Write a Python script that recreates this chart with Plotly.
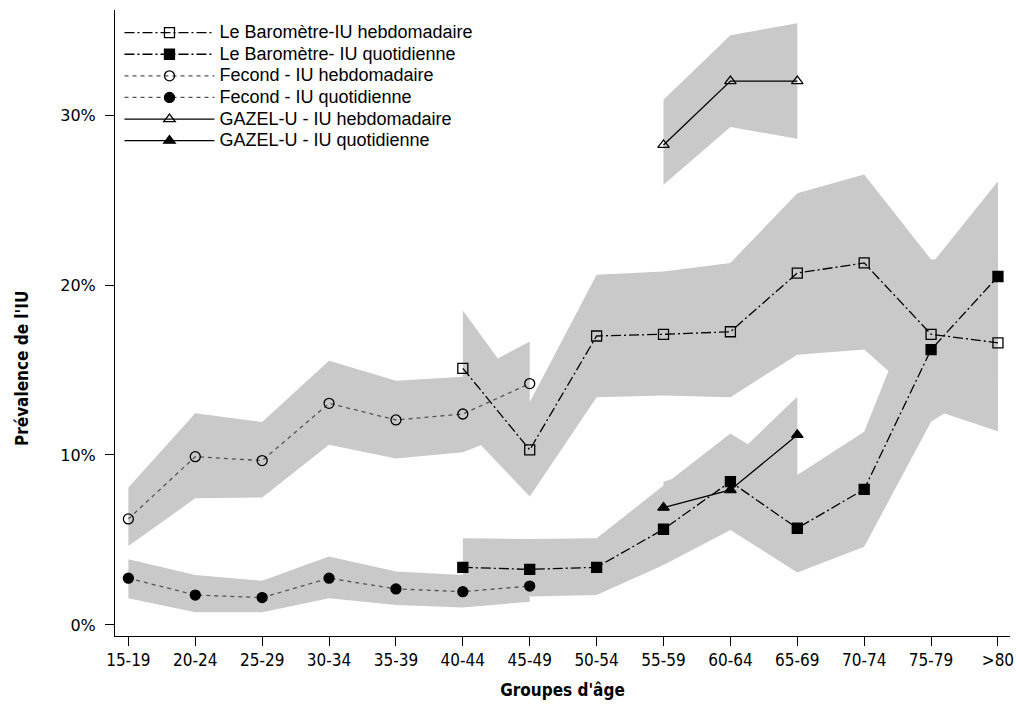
import plotly.graph_objects as go

# ---------------- data ----------------
age_groups = ["15-19", "20-24", "25-29", "30-34", "35-39", "40-44", "45-49",
              "50-54", "55-59", "60-64", "65-69", "70-74", "75-79", ">80"]

N = None
# Le Baromètre - IU hebdomadaire
baro_hebdo     = [N, N, N, N, N, 15.1, 10.3, 17.0, 17.1, 17.25, 20.7, 21.3, 17.1, 16.6]
baro_hebdo_lo  = [N, N, N, N, N, 11.7, 7.55, 13.4, 13.5, 13.4, 15.9, 16.2, 12.7, 11.4]
baro_hebdo_hi  = [N, N, N, N, N, 18.5, 13.1, 20.6, 20.8, 21.3, 25.4, 26.5, 21.5, 21.6]
# Le Baromètre - IU quotidienne
baro_quot      = [N, N, N, N, N, 3.39, 3.27, 3.39, 5.63, 8.43, 5.69, 7.98, 16.2, 20.5]
baro_quot_lo   = [N, N, N, N, N, 1.7, 1.67, 1.76, 3.53, 5.59, 3.08, 4.6, 11.96, 14.45]
baro_quot_hi   = [N, N, N, N, N, 5.1, 5.05, 5.1, 8.2, 11.27, 8.82, 11.37, 21.2, 26.1]
# Fecond - IU hebdomadaire
fec_hebdo      = [6.24, 9.9, 9.67, 13.04, 12.06, 12.41, 14.2, N, N, N, N, N, N, N]
fec_hebdo_lo   = [4.65, 7.45, 7.5, 10.6, 9.8, 10.16, 11.7, N, N, N, N, N, N, N]
fec_hebdo_hi   = [8.08, 12.45, 11.94, 15.55, 14.37, 14.6, 16.67, N, N, N, N, N, N, N]
# Fecond - IU quotidienne
fec_quot       = [2.75, 1.76, 1.61, 2.75, 2.12, 1.96, 2.29, N, N, N, N, N, N, N]
fec_quot_lo    = [1.57, 0.75, 0.75, 1.57, 1.18, 1.02, 1.37, N, N, N, N, N, N, N]
fec_quot_hi    = [3.86, 2.94, 2.6, 4.02, 3.14, 2.94, 3.3, N, N, N, N, N, N, N]
# GAZEL-U - IU hebdomadaire
gaz_hebdo      = [N, N, N, N, N, N, N, N, 28.24, 32.0, 32.0, N, N, N]
gaz_hebdo_lo   = [N, N, N, N, N, N, N, N, 25.9, 29.3, 28.6, N, N, N]
gaz_hebdo_hi   = [N, N, N, N, N, N, N, N, 30.9, 34.7, 35.4, N, N, N]
# GAZEL-U - IU quotidienne
gaz_quot       = [N, N, N, N, N, N, N, N, 6.9, 7.94, 11.18, N, N, N]
gaz_quot_lo    = [N, N, N, N, N, N, N, N, 5.4, 6.2, 8.6, N, N, N]
gaz_quot_hi    = [N, N, N, N, N, N, N, N, 8.43, 9.65, 13.43, N, N, N]

y_ticks = [0, 10, 20, 30]
y_tick_labels = ["0%", "10%", "20%", "30%"]

DASHDOT = "10px,3px,2px,3px"
FDASH = "4px,4px"
series = [
    ("Le Baromètre-IU hebdomadaire", baro_hebdo, baro_hebdo_lo, baro_hebdo_hi,
     "square-open", DASHDOT, "black"),
    ("Le Baromètre- IU quotidienne", baro_quot, baro_quot_lo, baro_quot_hi,
     "square", DASHDOT, "black"),
    ("Fecond - IU hebdomadaire", fec_hebdo, fec_hebdo_lo, fec_hebdo_hi,
     "circle-open", FDASH, "#555555"),
    ("Fecond - IU quotidienne", fec_quot, fec_quot_lo, fec_quot_hi,
     "circle", FDASH, "#555555"),
    ("GAZEL-U - IU hebdomadaire", gaz_hebdo, gaz_hebdo_lo, gaz_hebdo_hi,
     "triangle-up-open", "solid", "black"),
    ("GAZEL-U - IU quotidienne", gaz_quot, gaz_quot_lo, gaz_quot_hi,
     "triangle-up", "solid", "black"),
]

BAND = "#c9c9c9"
NARROW = "Liberation Sans Narrow, Arial Narrow, DejaVu Sans Condensed, sans-serif"
fig = go.Figure()

# confidence bands first
for name, vals, lo, hi, sym, dash, col in series:
    idx = [i for i, v in enumerate(vals) if v is not None]
    xs = [age_groups[i] for i in idx]
    xb = xs + xs[::-1]
    yb = [hi[i] for i in idx] + [lo[i] for i in idx][::-1]
    fig.add_trace(go.Scatter(x=xb, y=yb, fill="toself", fillcolor=BAND,
                             mode="none", line=dict(width=0),
                             showlegend=False, hoverinfo="skip"))

# lines + markers
for name, vals, lo, hi, sym, dash, col in series:
    idx = [i for i, v in enumerate(vals) if v is not None]
    xs = [age_groups[i] for i in idx]
    ys = [vals[i] for i in idx]
    fig.add_trace(go.Scatter(
        x=xs, y=ys, name="<span style='font-size:18px'>" + name + "</span>",
        mode="lines+markers",
        line=dict(color=col, width=1.3, dash=dash),
        marker=dict(symbol=sym, size=10, color="black",
                    line=dict(color="black", width=1.3)),
    ))

fig.update_layout(
    width=1016, height=706,
    paper_bgcolor="white", plot_bgcolor="white",
    margin=dict(l=115, r=6, t=10, b=70, autoexpand=False),
    showlegend=True,
    legend=dict(x=0.005, y=0.989, xanchor="left", yanchor="top",
                bgcolor="rgba(0,0,0,0)", itemwidth=90,
                font=dict(family="Liberation Sans, Arial, sans-serif", size=14.3, color="black"),
                tracegroupgap=0),
    xaxis=dict(
        type="category", categoryorder="array", categoryarray=age_groups,
        range=[-0.2, 13.18], showgrid=False, zeroline=False, automargin=False,
        showline=True, linecolor="black", linewidth=1,
        ticks="outside", ticklen=9, tickcolor="black",
        tickfont=dict(family=NARROW, size=17, color="black"),
        title=dict(text="<b>Groupes d'âge</b>", standoff=14,
                   font=dict(family=NARROW, size=17, color="black")),
    ),
    yaxis=dict(
        range=[-0.65, 36.18], showgrid=False, zeroline=False, automargin=False,
        showline=True, linecolor="black", linewidth=1,
        ticks="outside", ticklen=9, tickcolor="black",
        tickvals=y_ticks, ticktext=y_tick_labels, ticklabelstandoff=6,
        tickfont=dict(family="DejaVu Sans, Verdana, sans-serif", size=16, color="black"),
    ),
    annotations=[dict(
        text="<b>Prévalence de l'IU</b>", textangle=-90,
        xref="paper", yref="paper", x=-0.104, y=0.428,
        xanchor="center", yanchor="middle", showarrow=False,
        font=dict(family=NARROW, size=17, color="black"),
    )],
)

fig.write_html("out.html", config={"displayModeBar": False},
               post_script="document.body.style.margin='0';document.body.style.overflow='hidden';")
